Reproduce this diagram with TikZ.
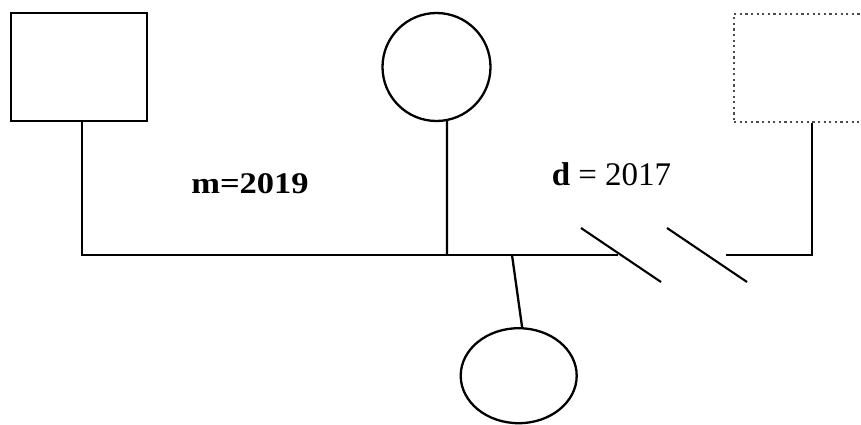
\documentclass[tikz,border=0pt]{standalone}
\usepackage{fontspec}
\setmainfont{Liberation Serif}
\usetikzlibrary{shapes.geometric,calc}
\begin{document}
\begin{tikzpicture}[x=1pt,y=-1pt,
  ln/.style={line width=2.3pt,black},
  person/.style={draw,line width=2.3pt,inner sep=0pt},
  malebox/.style={person,rectangle,minimum width=136pt,minimum height=108pt},
  ghostbox/.style={rectangle,draw=black!70,line width=2.3pt,dash pattern=on 2.2pt off 3.4pt,inner sep=0pt,minimum width=146pt,minimum height=108pt},
  femcirc/.style={person,circle,minimum size=108pt},
  childell/.style={person,ellipse,minimum width=116pt,minimum height=95pt},
  lab/.style={anchor=base,inner sep=0pt}]
\useasboundingbox (0,0) rectangle (861,425);
\clip (0,0) rectangle (861,425);
\node[malebox] (sq) at (79,67) {};
\node[femcirc] (c1) at (436.5,67) {};
\node[ghostbox] (gb) at (807,68) {};
\node[childell] (ch) at (518.7,375.7) {};
\coordinate (jl) at (82,255);
\coordinate (jm) at (447,255);
\coordinate (jb) at (512,255);
\coordinate (jr) at (618,255);
\coordinate (kl) at (726,255);
\coordinate (kr) at (812,255);
\coordinate (s1a) at (581,228);
\coordinate (s1b) at (661,282);
\coordinate (s2a) at (667,228);
\coordinate (s2b) at (747,282);
\draw[ln] ($(sq.south)+(3,0)$) -- (jl) -- (jr);
\draw[ln] (c1.-79) -- (jm);
\draw[ln] (jb) -- (ch.86);
\draw[ln] (kl) -- (kr) -- (kr |- gb.south);
\draw[ln,line width=2.1pt] (s1a) -- (s1b);
\draw[ln,line width=2.1pt] (s2a) -- (s2b);
\node[lab,font=\fontsize{30}{30}\selectfont\bfseries,xscale=1.15] (m) at (250,193) {m=2019};
\node[lab,font=\fontsize{33}{33}\selectfont] (d) at (611.5,185) {\textbf{d} = 2017};
\end{tikzpicture}
\end{document}
